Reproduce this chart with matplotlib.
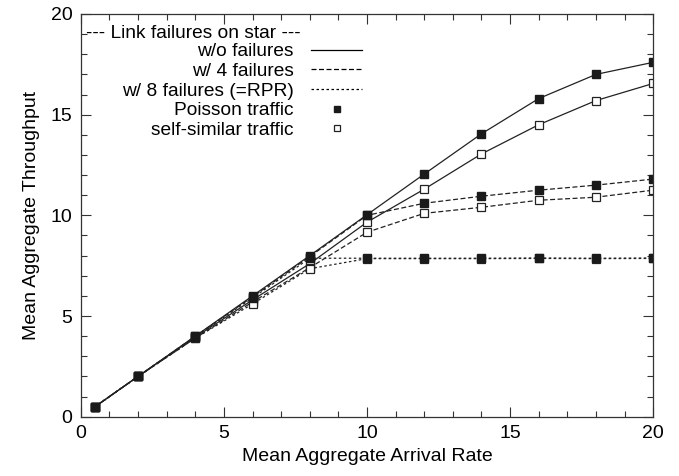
import matplotlib
matplotlib.use("Agg")
import matplotlib.pyplot as plt
from matplotlib.lines import Line2D
from matplotlib.ticker import MultipleLocator

plt.rcParams['font.family'] = ['Liberation Sans', 'DejaVu Sans']

# arrival rates
rate = [0.5, 2, 4, 6, 8, 10, 12, 14, 16, 18, 20]

# Poisson traffic
poisson_none = [0.5, 2.0, 4.0, 6.0, 8.0, 10.03, 12.05, 14.05, 15.8, 17.0, 17.6]
poisson_4 = [0.5, 2.0, 4.0, 5.95, 7.95, 10.0, 10.6, 10.95, 11.25, 11.5, 11.8]
poisson_8 = [0.5, 2.0, 3.98, 5.9, 7.87, 7.87, 7.87, 7.87, 7.88, 7.87, 7.88]

# self-similar traffic
selfsim_none = [0.5, 2.0, 3.95, 5.8, 7.6, 9.66, 11.3, 13.05, 14.5, 15.7, 16.55]
selfsim_4 = [0.5, 2.0, 3.9, 5.7, 7.4, 9.16, 10.1, 10.4, 10.75, 10.9, 11.25]
selfsim_8 = [0.5, 2.0, 3.9, 5.6, 7.35, 7.85, 7.85, 7.85, 7.86, 7.85, 7.86]

styles = {
    'none': '-',
    '4': (0, (4, 2)),
    '8': (0, (2, 2)),
}

fig = plt.figure(figsize=(6.79, 4.76), dpi=100)
ax = fig.add_axes([0.119, 0.1246, 0.843, 0.846])

lw = 0.9
ms = 5.5
for y, key in [(selfsim_none, 'none'), (selfsim_4, '4'), (selfsim_8, '8')]:
    ax.plot(rate, y, color='#222222', lw=lw, ls=styles[key], marker='s',
            ms=ms, mfc='white', mec='#222222', mew=0.9)
for y, key in [(poisson_none, 'none'), (poisson_4, '4'), (poisson_8, '8')]:
    ax.plot(rate, y, color='#222222', lw=lw, ls=styles[key], marker='s',
            ms=ms + 0.3, mfc='#1a1a1a', mec='#1a1a1a')

ax.set_xlim(0, 20)
ax.set_ylim(0, 20)
ax.xaxis.set_major_locator(MultipleLocator(5))
ax.yaxis.set_major_locator(MultipleLocator(5))
ax.xaxis.set_minor_locator(MultipleLocator(1))
ax.yaxis.set_minor_locator(MultipleLocator(1))
ax.tick_params(which='both', direction='in', top=True, right=True,
               labelsize=14, width=0.8, color='#333333')
ax.tick_params(which='major', length=7, pad=6)
ax.tick_params(which='minor', length=4)
for s in ax.spines.values():
    s.set_linewidth(0.9)
    s.set_color('#333333')

ax.set_xlabel('Mean Aggregate Arrival Rate', fontsize=14, labelpad=4)
ax.set_ylabel('Mean Aggregate Throughput', fontsize=14, labelpad=8)

handles = [
    Line2D([], [], color='black', lw=lw, ls=styles['none']),
    Line2D([], [], color='black', lw=lw, ls=styles['4']),
    Line2D([], [], color='black', lw=lw, ls=styles['8']),
    Line2D([], [], ls='none', marker='s', ms=5, mfc='#1a1a1a', mec='#1a1a1a'),
    Line2D([], [], ls='none', marker='s', ms=5, mfc='white', mec='#222222', mew=0.9),
]
labels = ['w/o failures', 'w/ 4 failures', 'w/ 8 failures (=RPR)',
          'Poisson traffic', 'self-similar traffic']
ax.legend(handles, labels, loc='upper right', bbox_to_anchor=(0.492, 0.928),
          frameon=False, markerfirst=False, fontsize=13.75, handlelength=2.7,
          handletextpad=0.9, labelspacing=0.12, borderpad=0, borderaxespad=0)

ax.text(0.0095, 0.952, '--- Link failures on star ---', transform=ax.transAxes,
        fontsize=13.75, va='center', ha='left')

fig.savefig('out.png', dpi=100)
